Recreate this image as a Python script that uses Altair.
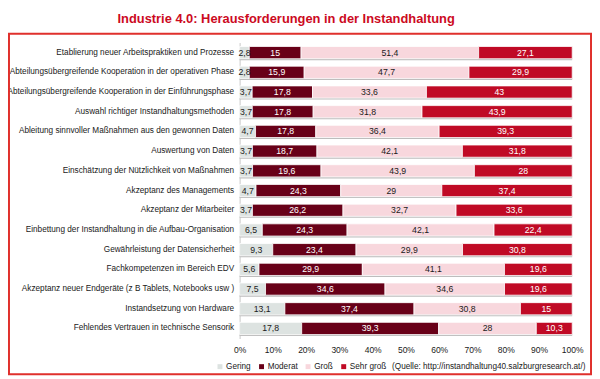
import altair as alt
import pandas as pd

items = [
    "Etablierung neuer Arbeitspraktiken und Prozesse",
    "Abteilungsübergreifende Kooperation in der operativen Phase",
    "Abteilungsübergreifende Kooperation in der Einführungsphase",
    "Auswahl richtiger Instandhaltungsmethoden",
    "Ableitung sinnvoller Maßnahmen aus den gewonnen Daten",
    "Auswertung von Daten",
    "Einschätzung der Nützlichkeit von Maßnahmen",
    "Akzeptanz des Managements",
    "Akzeptanz der Mitarbeiter",
    "Einbettung der Instandhaltung in die Aufbau-Organisation",
    "Gewährleistung der Datensicherheit",
    "Fachkompetenzen im Bereich EDV",
    "Akzeptanz neuer Endgeräte (z B  Tablets, Notebooks usw )",
    "Instandsetzung von Hardware",
    "Fehlendes Vertrauen in technische Sensorik",
]
categories = ["Gering", "Moderat", "Groß", "Sehr groß"]
gering = [2.8, 2.8, 3.7, 3.7, 4.7, 3.7, 3.7, 4.7, 3.7, 6.5, 9.3, 5.6, 7.5, 13.1, 17.8]
moderat = [15, 15.9, 17.8, 17.8, 17.8, 18.7, 19.6, 24.3, 26.2, 24.3, 23.4, 29.9, 34.6, 37.4, 39.3]
gross = [51.4, 47.7, 33.6, 31.8, 36.4, 42.1, 43.9, 29, 32.7, 42.1, 29.9, 41.1, 34.6, 30.8, 28]
sehr_gross = [27.1, 29.9, 43, 43.9, 39.3, 31.8, 28, 37.4, 33.6, 22.4, 30.8, 19.6, 19.6, 15, 10.3]
colors = ["#dde3e1", "#680018", "#f8d7dd", "#c00a25"]
title_text = "Industrie 4.0: Herausforderungen  in der Instandhaltung"
source_text = "(Quelle: http://instandhaltung40.salzburgresearch.at/)"
x_ticks = [i / 10 for i in range(11)]

rows = []
for i, it in enumerate(items):
    for k, (cat, arr) in enumerate(zip(categories, [gering, moderat, gross, sehr_gross])):
        rows.append({"item": it, "cat": cat, "order": k, "value": arr[i]})
df = pd.DataFrame(rows)

FONT = "Liberation Sans"
FS = 8.3

base = alt.Chart(df).transform_stack(
    stack="value", groupby=["item"], as_=["x0", "x1"],
    sort=[alt.SortField("order", order="ascending")], offset="normalize"
).transform_calculate(
    mid="(datum.x0 + datum.x1) / 2",
    lbl="replace(toString(datum.value), '.', ',')"
)

y_scale = alt.Scale(paddingInner=0.38, paddingOuter=0.2)
y_axis = alt.Axis(domainColor="#c8c8c8", ticks=False, labelFontSize=FS,
                  labelColor="#1a1a1a", labelPadding=6, labelLimit=400,
                  labelFont=FONT)
y_enc = alt.Y("item:N", sort=items, title=None, scale=y_scale, axis=y_axis)

x_axis = alt.Axis(format="%", values=x_ticks, domain=False, ticks=False, grid=False,
                  labelFontSize=8.6, labelColor="#1a1a1a", labelPadding=7,
                  labelFont=FONT, labelOverlap=False, labelBound=False, labelFlush=False)
x_scale = alt.Scale(domain=[0, 1], nice=False)

shadow = alt.Chart(pd.DataFrame({"item": items})).transform_calculate(
    a="0", b="1"
).mark_bar(color="#bdbdbd", yOffset=1.5).encode(
    x=alt.X("a:Q", title=None, scale=x_scale, axis=x_axis), x2="b:Q", y=y_enc
)

bars = base.mark_bar(stroke="white", strokeWidth=0.8).encode(
    x=alt.X("x0:Q", title=None, scale=x_scale, axis=x_axis),
    x2="x1:Q",
    y=y_enc,
    color=alt.Color("cat:N", sort=categories,
                    scale=alt.Scale(domain=categories, range=colors),
                    legend=alt.Legend(title=None, orient="none", legendX=-24, legendY=323,
                                      direction="horizontal", symbolType="square",
                                      symbolSize=25, labelFontSize=FS, labelFont=FONT,
                                      labelColor="#1a1a1a", columnPadding=6,
                                      labelOffset=2, symbolStrokeWidth=0)),
    order=alt.Order("order:Q"),
)

labels = base.mark_text(fontSize=8.8, font=FONT).encode(
    x=alt.X("mid:Q", title=None, scale=x_scale, axis=x_axis),
    y=y_enc,
    text="lbl:N",
    color=alt.condition("datum.cat == 'Moderat' || datum.cat == 'Sehr groß'",
                        alt.value("white"), alt.value("#1a1a1a")),
)

title = alt.Chart(pd.DataFrame({"t": [title_text]})).mark_text(
    fontSize=13, fontWeight="bold", color="#cc0a1e", font=FONT,
    align="center", baseline="middle").encode(
    x=alt.value(47), y=alt.value(-24), text="t:N")

src = alt.Chart(pd.DataFrame({"t": [source_text]})).mark_text(
    fontSize=FS, font=FONT, color="#1a1a1a", align="left", baseline="middle").encode(
    x=alt.value(154), y=alt.value(328), text="t:N")

frame = alt.Chart(pd.DataFrame({"t": [1]})).mark_rect(
    fillOpacity=0, stroke="#e0302c", strokeWidth=2).encode(
    x=alt.value(-233), x2=alt.value(355), y=alt.value(-9), y2=alt.value(335))

chart = alt.layer(frame, shadow, bars, labels, title, src).resolve_scale(
    color="independent"
).properties(
    width=336, height=299,
    padding={"left": 234, "top": 33, "right": 20, "bottom": 39},
    autosize=alt.AutoSizeParams(type="none"),
).configure_view(stroke=None)

chart.save("out.html", embed_options={"renderer": "svg", "actions": False})
